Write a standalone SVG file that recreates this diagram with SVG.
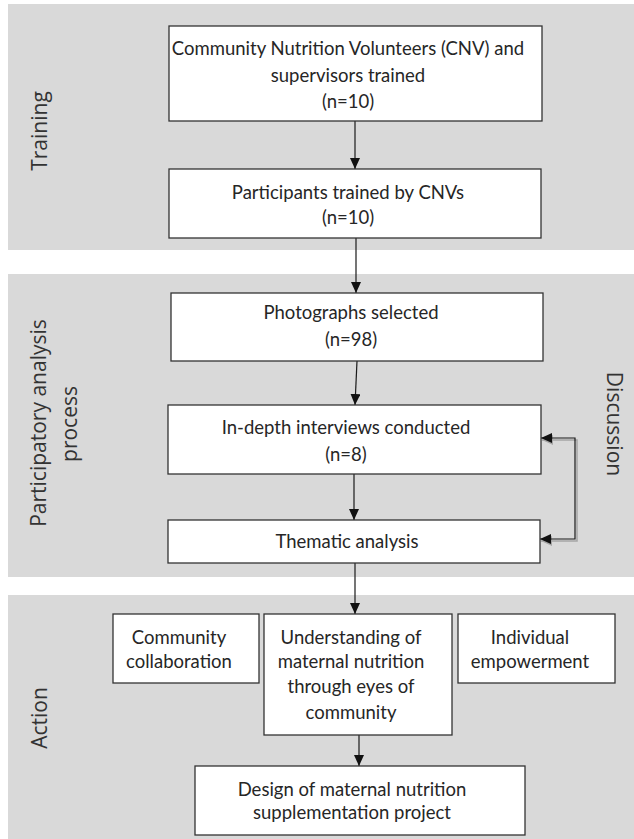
<svg xmlns="http://www.w3.org/2000/svg" width="634" height="839" viewBox="0 0 634 839">
<style>
.panel{fill:#d9d9d9;}
.box{fill:#ffffff;stroke:#333333;stroke-width:1.3;}
.t{font-family:Lato,"Open Sans",sans-serif;font-size:18.5px;fill:#262626;text-anchor:middle;}
.side{font-family:"Open Sans","DejaVu Sans",sans-serif;font-size:21px;fill:#333333;text-anchor:middle;}
.conn{fill:none;stroke:#1a1a1a;stroke-width:1.2;}
.shadow{fill:none;stroke:#a5a5a5;stroke-width:1.5;}
</style>
<defs>
<marker id="ah" markerUnits="userSpaceOnUse" markerWidth="11" markerHeight="10" refX="11" refY="5" orient="auto-start-reverse">
<path d="M0,0 L11,5 L0,10 z" fill="#111111"/>
</marker>
<marker id="ahs" markerUnits="userSpaceOnUse" markerWidth="11" markerHeight="10" refX="11" refY="5" orient="auto-start-reverse">
<path d="M0,0 L11,5 L0,10 z" fill="#a5a5a5"/>
</marker>
</defs>

<g id="panels">
<rect class="panel" x="8" y="4" width="626" height="246"/>
<rect class="panel" x="8" y="274" width="626" height="303"/>
<rect class="panel" x="8" y="595" width="626" height="244"/>
<text class="side" transform="translate(47,131) rotate(-90)">Training</text>
<text class="side" transform="translate(46,423) rotate(-90)">Participatory analysis</text>
<text class="side" transform="translate(77,424) rotate(-90)">process</text>
<text class="side" transform="translate(47,718) rotate(-90)">Action</text>
<text class="side" transform="translate(607,424) rotate(90)">Discussion</text>
</g>

<g id="connectors">
<line class="conn" x1="355" y1="121" x2="355" y2="169" marker-end="url(#ah)"/>
<line class="conn" x1="356" y1="238" x2="356" y2="293" marker-end="url(#ah)"/>
<line class="conn" x1="357" y1="361" x2="355" y2="405" marker-end="url(#ah)"/>
<line class="conn" x1="354" y1="474" x2="354" y2="520" marker-end="url(#ah)"/>
<line class="conn" x1="355" y1="563" x2="355" y2="614" marker-end="url(#ah)"/>
<line class="conn" x1="359" y1="735" x2="359" y2="766" marker-end="url(#ah)"/>
<path class="shadow" d="M542,440 H577 V541 H541" marker-start="url(#ahs)" marker-end="url(#ahs)"/>
<path class="conn" d="M541,438 H575 V539 H540" marker-start="url(#ah)" marker-end="url(#ah)"/>
</g>

<g id="n1">
<rect class="box" x="169" y="26" width="373" height="95"/>
<text class="t" x="348" y="55">Community Nutrition Volunteers (CNV) and</text>
<text class="t" x="348" y="82">supervisors trained</text>
<text class="t" x="348" y="108">(n=10)</text>
</g>
<g id="n2">
<rect class="box" x="169" y="169" width="372" height="69"/>
<text class="t" x="348" y="199">Participants trained by CNVs</text>
<text class="t" x="348" y="224">(n=10)</text>
</g>
<g id="n3">
<rect class="box" x="171" y="293" width="372" height="68"/>
<text class="t" x="351" y="319">Photographs selected</text>
<text class="t" x="351" y="346">(n=98)</text>
</g>
<g id="n4">
<rect class="box" x="168" y="405" width="373" height="69"/>
<text class="t" x="346" y="434">In-depth interviews conducted</text>
<text class="t" x="346" y="461">(n=8)</text>
</g>
<g id="n5">
<rect class="box" x="168" y="520" width="372" height="43"/>
<text class="t" x="347" y="548">Thematic analysis</text>
</g>
<g id="n6">
<rect class="box" x="113" y="614" width="146" height="69"/>
<text class="t" x="179" y="644">Community</text>
<text class="t" x="179" y="668">collaboration</text>
</g>
<g id="n7">
<rect class="box" x="264" y="614" width="188" height="121"/>
<text class="t" x="351" y="644">Understanding of</text>
<text class="t" x="351" y="668">maternal nutrition</text>
<text class="t" x="351" y="693">through eyes of</text>
<text class="t" x="351" y="719">community</text>
</g>
<g id="n8">
<rect class="box" x="458" y="614" width="157" height="69"/>
<text class="t" x="530" y="644">Individual</text>
<text class="t" x="530" y="668">empowerment</text>
</g>
<g id="n9">
<rect class="box" x="195" y="766" width="330" height="69"/>
<text class="t" x="352" y="796">Design of maternal nutrition</text>
<text class="t" x="352" y="819">supplementation project</text>
</g>
</svg>
